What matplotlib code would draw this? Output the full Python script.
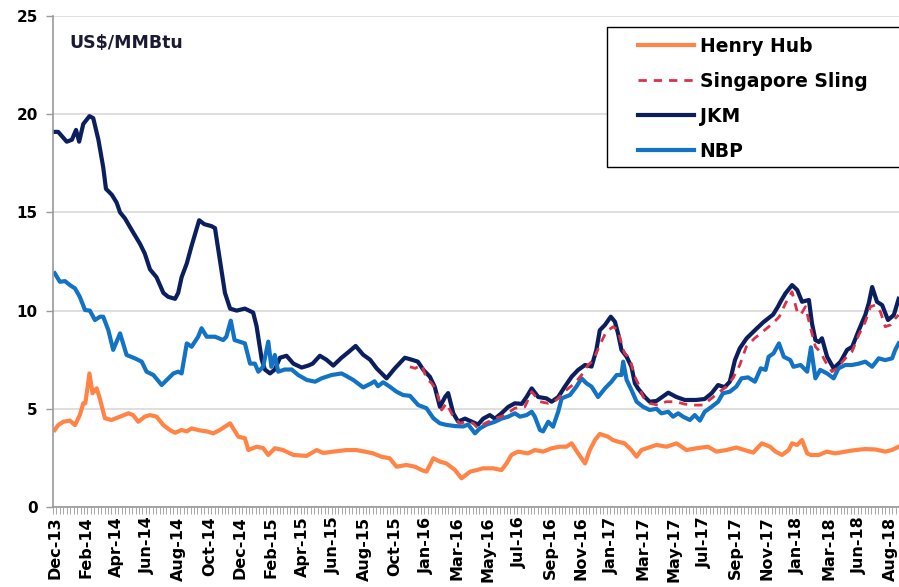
import matplotlib
matplotlib.use("Agg")
import matplotlib.pyplot as plt
from matplotlib.patches import Rectangle

plt.rcParams['font.family'] = ['DejaVu Sans']

# weekly index (week 0 = first week of Dec-13), values in US$/MMBtu
tick_weeks = [0, 9, 18, 27, 36, 45, 54, 63, 72, 81, 90, 99, 108, 117, 126, 135,
              144, 153, 162, 171, 180, 189, 198, 207, 216, 225, 234, 243]
tick_labels = ['Dec-13', 'Feb-14', 'Apr-14', 'Jun-14', 'Aug-14', 'Oct-14', 'Dec-14',
               'Feb-15', 'Apr-15', 'Jun-15', 'Aug-15', 'Oct-15', 'Jan-16', 'Mar-16',
               'May-16', 'Jul-16', 'Sep-16', 'Nov-16', 'Jan-17', 'Mar-17', 'May-17',
               'Jul-17', 'Sep-17', 'Nov-17', 'Jan-18', 'Mar-18', 'Jun-18', 'Aug-18']

hh_w = [0, 1, 2.5, 4.4, 5.9, 7.3, 8.3, 8.9, 10.1, 11, 12.2, 13.1, 14.6, 16.5, 19, 21.4,
        22.8, 24.3, 26.2, 27.7, 29.6, 31.6, 33.5, 35, 36.9, 38.4, 39.8, 42.2, 44.2, 46.1,
        48, 51, 51.9, 53.4, 55.3, 56.3, 58.7, 60.6, 62.1, 64, 66.4, 69.4, 73.2, 76.2,
        78.1, 81, 84.8, 87.7, 90.2, 92.6, 95, 97.4, 99.4, 102.2, 104.8, 106.7, 108.1,
        110.1, 112, 113.9, 116.4, 118.3, 120.8, 122.7, 124.6, 127.5, 129.9, 131.4, 132.8,
        134.7, 137.6, 139.6, 142, 144.5, 146.9, 148.8, 150.3, 152.2, 154.2, 155.6, 157.1,
        158.5, 160.9, 162.3, 163.7, 165.7, 167.7, 169.2, 170.6, 172.1, 175, 177.9, 180.8,
        183.7, 186.6, 189.9, 192.4, 195.3, 198.2, 200.6, 203.1, 205.6, 208, 209.6, 211.5,
        213.4, 214.4, 215.9, 217.3, 218.8, 219.8, 222.2, 224.5, 227, 229.9, 232.8, 235.7,
        238.6, 241.5, 243.4, 245.4]
hh_v = [3.92, 4.17, 4.34, 4.4, 4.17, 4.68, 5.28, 5.28, 6.8, 5.79, 6.04, 5.53, 4.52, 4.43,
        4.6, 4.77, 4.68, 4.34, 4.6, 4.68, 4.6, 4.17, 3.92, 3.78, 3.92, 3.85, 4.0, 3.9, 3.85,
        3.75, 3.92, 4.26, 4.0, 3.58, 3.5, 2.9, 3.07, 3.0, 2.65, 2.99, 2.9, 2.65, 2.6, 2.9,
        2.75, 2.82, 2.9, 2.9, 2.82, 2.73, 2.56, 2.48, 2.05, 2.14, 2.05, 1.88, 1.8, 2.48,
        2.31, 2.22, 1.88, 1.46, 1.8, 1.88, 1.97, 1.97, 1.88, 2.22, 2.65, 2.82, 2.73, 2.9,
        2.82, 2.99, 3.07, 3.07, 3.24, 2.73, 2.22, 2.9, 3.41, 3.72, 3.58, 3.41, 3.33, 3.24,
        2.9, 2.56, 2.9, 2.99, 3.16, 3.07, 3.24, 2.9, 2.99, 3.07, 2.82, 2.9, 3.03, 2.9, 2.77,
        3.24, 3.07, 2.82, 2.65, 2.9, 3.24, 3.16, 3.41, 2.73, 2.65, 2.65, 2.82, 2.73, 2.82,
        2.9, 2.95, 2.93, 2.82, 2.9, 3.07]

ss_w = [103.3, 104.8, 106.7, 108.1, 109.6, 111, 112.5, 113.9, 115.9, 117.8, 119.8, 121.7,
        123.1, 125.1, 128, 130.9, 133.8, 136.7, 138.7, 141.1, 143.5, 145.9, 148.8, 151.2,
        153.2, 155.1, 156.6, 158.5, 160.4, 162.4, 163.8, 164.8, 165.7, 167.2, 168.7, 169.6,
        171.1, 173, 175.4, 177.8, 180.7, 183.1, 186, 188.5, 190.4, 192.8, 195.3, 197.2,
        199.2, 201.1, 203.5, 205.9, 208.8, 210.7, 212.5, 214.4, 215.9, 216.9, 218.3, 219.8,
        221.2, 222.6, 224.1, 226, 227.4, 229.9, 231.8, 233.8, 235.7, 237.2, 238.6, 240.1,
        241.5, 243, 244.4, 245.4]
ss_v = [7.14, 7.06, 7.23, 6.55, 6.3, 5.96, 4.94, 5.28, 4.6, 4.26, 4.35, 4.26, 4.0, 4.26,
        4.5, 4.68, 5.03, 5.1, 5.87, 5.36, 5.28, 5.45, 5.96, 6.3, 6.72, 7.23, 7.48, 8.25,
        8.93, 9.18, 9.0, 8.33, 7.82, 7.57, 6.63, 6.3, 5.6, 5.28, 5.19, 5.36, 5.36, 5.24,
        5.19, 5.19, 5.45, 5.79, 6.13, 6.55, 7.23, 8.16, 8.59, 8.93, 9.35, 9.69, 10.37,
        10.96, 9.94, 9.78, 10.2, 9.1, 8.16, 7.9, 7.4, 6.89, 7.06, 7.57, 7.9, 8.76, 9.43,
        10.2, 10.28, 9.94, 9.18, 9.27, 9.6, 9.78]

jkm_w = [0, 1, 3.5, 5, 6.2, 7.1, 8.3, 10.1, 11.2, 12.7, 14.1, 14.9, 16.6, 18, 19, 20.4,
         22.4, 24.8, 26.2, 27.7, 29.6, 31.6, 33, 35, 35.9, 36.9, 38.4, 39.8, 42, 43.5,
         45.6, 46.6, 48, 49.5, 51, 52.9, 55.3, 57.7, 58.7, 60.2, 61.1, 62.6, 64, 65.5, 67.4,
         69.4, 71.8, 73.7, 75, 77.1, 79, 81, 83.4, 85.5, 87.5, 89.7, 91.7, 93.6, 96.5, 98.9,
         101.8, 103.8, 105.6, 107.2, 109.1, 110.5, 112, 113.5, 114.4, 115.9, 117.3, 119.3,
         121.2, 123.1, 124.6, 126.5, 128, 129.9, 131.9, 133.8, 135.8, 137.2, 138.7, 140.6,
         143, 144.5, 146.4, 148.3, 150.3, 152.2, 154.2, 156.1, 157.5, 158.5, 160, 161.7,
         162.9, 163.8, 164.8, 166.3, 167.7, 168.7, 169.6, 171.6, 173, 175, 178.4, 180.8,
         183.2, 186.6, 189, 191, 192.9, 194.8, 196.3, 197.8, 199.2, 201.2, 203.6, 206,
         208.9, 210.3, 211.2, 212.5, 214.4, 215.9, 217.3, 219.3, 220.2, 221.2, 222.2,
         223.1, 224.6, 226.5, 228.5, 230.4, 231.9, 233.8, 235.7, 236.7, 237.7, 239.1,
         240.6, 242.3, 244, 245.4]
jkm_v = [19.1, 19.1, 18.6, 18.7, 19.2, 18.6, 19.5, 19.9, 19.8, 18.7, 17.3, 16.2, 15.9,
         15.5, 15.0, 14.7, 14.1, 13.4, 12.9, 12.1, 11.7, 10.9, 10.7, 10.6, 10.9, 11.7, 12.4,
         13.3, 14.6, 14.4, 14.3, 14.2, 12.6, 10.9, 10.1, 10.0, 10.1, 9.9, 9.2, 7.5, 7.0,
         6.8, 7.0, 7.6, 7.7, 7.3, 7.1, 7.2, 7.3, 7.7, 7.5, 7.2, 7.6, 7.9, 8.2, 7.75, 7.5,
         7.06, 6.55, 7.06, 7.6, 7.5, 7.4, 6.98, 6.63, 6.12, 5.1, 5.6, 5.8, 4.77, 4.35, 4.5,
         4.35, 4.2, 4.5, 4.68, 4.5, 4.77, 5.1, 5.28, 5.25, 5.6, 6.04, 5.6, 5.53, 5.36, 5.6,
         6.12, 6.63, 6.98, 7.23, 7.15, 8.0, 9.0, 9.27, 9.69, 9.43, 8.84, 8.0, 7.65, 7.14,
         6.3, 6.04, 5.6, 5.36, 5.4, 5.82, 5.6, 5.45, 5.45, 5.5, 5.79, 6.21, 6.1, 6.38, 7.48,
         8.08, 8.59, 9.0, 9.4, 9.8, 10.2, 10.5, 10.88, 11.3, 11.05, 10.45, 10.54, 9.35, 8.5,
         8.4, 8.59, 7.65, 7.06, 7.4, 8.0, 8.16, 9.0, 9.78, 10.37, 11.2, 10.45, 10.28, 9.52,
         9.78, 10.6]

nbp_w = [0, 1.5, 3, 4.4, 5.9, 7.3, 8.8, 10.2, 11.7, 13.2, 14.1, 15.6, 17, 19, 20.9, 23.3,
         25.3, 26.7, 28.7, 31.1, 32.5, 34.5, 35.9, 36.9, 38.4, 39.8, 41.7, 42.7, 44.2, 46.6,
         49, 49.9, 51.2, 52.3, 55.3, 56.8, 58.2, 59.2, 60.6, 62.1, 63, 64, 65, 66.9, 68.9,
         70.8, 73.3, 75.7, 77.6, 80.5, 83.4, 84.8, 86.8, 89.7, 92.1, 93, 94, 95.5, 97.4,
         99.4, 101.3, 103.3, 105.7, 108.1, 110.1, 112, 113.9, 116.4, 118.8, 120.2, 122.2,
         123.6, 125.6, 128, 129.9, 131.9, 133.8, 135.3, 137.2, 138.7, 139.6, 141.1, 142,
         143.5, 144.9, 146.4, 147.4, 149.8, 151.7, 153.2, 154.6, 156.1, 158, 160, 161.9,
         163.4, 164.8, 165.3, 166.3, 167.7, 169.2, 171.1, 173, 175, 176.4, 178.4, 179.8,
         181.3, 182.7, 184.7, 186.1, 187.6, 189, 191, 192.9, 194.3, 196.3, 198.2, 199.7,
         201.6, 203.6, 205.3, 206.7, 207.6, 209, 210.6, 212, 213.9, 214.8, 216.9, 218.8,
         219.9, 221.2, 222.6, 224.6, 226.5, 227.9, 229.9, 231.8, 233.8, 235.7, 237.7,
         239.6, 241.5, 243.5, 244.4, 245.4]
nbp_v = [11.9, 11.47, 11.5, 11.3, 11.13, 10.7, 10.03, 10.0, 9.52, 9.69, 9.69, 9.0, 8.0,
         8.84, 7.74, 7.57, 7.4, 6.89, 6.72, 6.21, 6.45, 6.8, 6.89, 6.8, 8.33, 8.16, 8.67,
         9.1, 8.67, 8.67, 8.5, 8.67, 9.49, 8.5, 8.33, 7.3, 7.3, 6.89, 7.14, 8.42, 7.14,
         7.74, 6.89, 7.0, 7.0, 6.72, 6.47, 6.38, 6.55, 6.72, 6.8, 6.67, 6.47, 6.09, 6.3,
         6.4, 6.15, 6.35, 6.13, 5.87, 5.7, 5.66, 5.19, 5.03, 4.52, 4.26, 4.18, 4.12, 4.1,
         4.2, 3.75, 4.0, 4.2, 4.34, 4.5, 4.6, 4.77, 4.6, 4.68, 4.85, 4.6, 3.92, 3.85, 4.34,
         4.09, 4.85, 5.53, 5.7, 6.13, 6.55, 6.3, 6.13, 5.6, 6.04, 6.38, 6.72, 6.72, 7.4,
         6.47, 5.96, 5.36, 5.1, 4.94, 5.0, 4.77, 4.85, 4.6, 4.77, 4.6, 4.43, 4.68, 4.4,
         4.85, 5.1, 5.36, 5.79, 5.87, 6.13, 6.55, 6.6, 6.38, 7.06, 6.98, 7.65, 7.82, 8.33,
         7.65, 7.48, 7.14, 7.23, 6.89, 8.13, 6.55, 6.98, 6.8, 6.55, 7.06, 7.23, 7.23, 7.3,
         7.4, 7.14, 7.57, 7.48, 7.57, 8.0, 8.33]

n_weeks = 246

fig = plt.figure(figsize=(8.99, 5.87), dpi=100)
ax = fig.add_axes([53 / 899, 1 - 507 / 587, 846 / 899, 491 / 587])

ax.plot(hh_w, hh_v, color='#FF8445', lw=3.0, label='Henry Hub', solid_joinstyle='round')
ax.plot(ss_w, ss_v, color='#D9324A', lw=2.0, ls=(0, (3, 2.5)), label='Singapore Sling',
        zorder=3)
ax.plot(jkm_w, jkm_v, color='#0B1F5E', lw=3.0, label='JKM', solid_joinstyle='round')
ax.plot(nbp_w, nbp_v, color='#1273C4', lw=3.0, label='NBP', solid_joinstyle='round')

ax.set_xlim(-0.5, n_weeks - 0.5)
ax.set_ylim(0, 25)
ax.set_yticks([0, 5, 10, 15, 20, 25])
ax.yaxis.grid(True, color='#D9D9D9', lw=1.2)
ax.set_axisbelow(True)

ax.set_xticks(tick_weeks)
ax.set_xticklabels(tick_labels, rotation=90, fontsize=11.5, fontweight='bold')
ax.set_xticks([w - 0.5 for w in range(n_weeks + 1)], minor=True)
ax.tick_params(axis='x', which='major', length=0, pad=7)
ax.tick_params(axis='x', which='minor', length=5, width=0.6, color='#999999')
ax.tick_params(axis='y', length=5, width=1, color='#999999', labelsize=11, pad=6)
for t in ax.get_yticklabels():
    t.set_fontweight('bold')

for s in ['top', 'right']:
    ax.spines[s].set_visible(False)
for s in ['left', 'bottom']:
    ax.spines[s].set_color('#999999')
    ax.spines[s].set_linewidth(1.2)

ax.text(0.019, 0.945, 'US$/MMBtu', transform=ax.transAxes, fontsize=12.5,
        fontweight='bold', color='#1a1a33', va='center')

# legend box (cut by the right edge like the original)
ax.add_patch(Rectangle((0.6548, 0.6925), 0.37, 0.285, transform=ax.transAxes,
                       facecolor='white', edgecolor='black', lw=1.0, clip_on=False,
                       zorder=4))
leg = ax.legend(loc='upper left', bbox_to_anchor=(0.6915, 0.958), frameon=False,
                prop={'weight': 'bold', 'size': 13.5}, handlelength=3.0,
                labelspacing=0.86, borderpad=0, handletextpad=0.28, borderaxespad=0)
leg.set_zorder(5)

fig.savefig('out.png', dpi=100)
